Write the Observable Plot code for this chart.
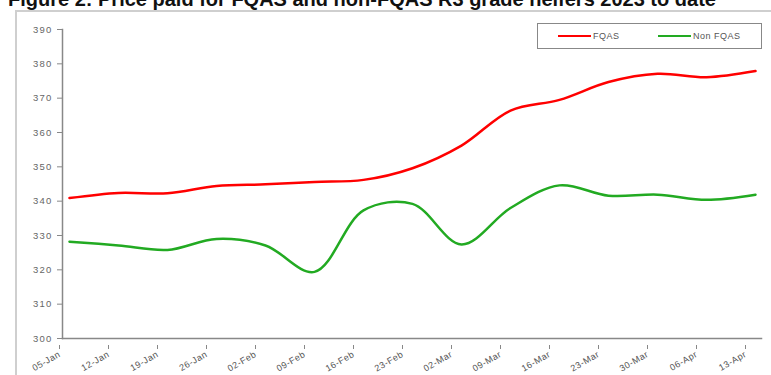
<!DOCTYPE html>
<html>
<head>
<meta charset="utf-8">
<script src="https://cdn.jsdelivr.net/npm/d3@7"></script>
<script src="https://cdn.jsdelivr.net/npm/@observablehq/plot@0.6"></script>
<style>
  html, body { margin: 0; padding: 0; background: #fff; overflow: hidden; }
  #wrap { position: relative; width: 771px; height: 375px; overflow: hidden; }
  #title { position: absolute; left: 8px; top: -11px; font: bold 20px "Liberation Sans", Arial, sans-serif; line-height: 20px; color: #111; white-space: nowrap; }
  #border { position: absolute; left: 15px; top: 10px; width: 800px; height: 400px; border: 2px solid #cfcfcf; box-sizing: border-box; }
  #chart { position: absolute; left: 0; top: 0; }
  #legend { position: absolute; left: 537px; top: 23px; width: 225px; height: 26px; border: 1px solid #888; box-sizing: border-box; background: #fff;
    font: 9px "Liberation Sans", Arial, sans-serif; color: #555; letter-spacing: 0.5px; }
  .item { position: absolute; top: 7px; display: flex; align-items: center; }
  .sw { display: inline-block; width: 33px; height: 2px; margin-right: 2px; }
  .yax text { letter-spacing: 1.2px; }
  .xax text { letter-spacing: 0.5px; }
</style>
</head>
<body>
<div id="wrap">
  <div id="border"></div>
  <div id="chart"></div>
  <div id="title">Figure 2: Price paid for FQAS and non-FQAS R3 grade heifers 2023 to date</div>
  <div id="legend">
    <div class="item" style="left:20px"><span class="sw" style="background:#ff0000"></span>FQAS</div>
    <div class="item" style="left:120px"><span class="sw" style="background:#22aa22"></span>Non FQAS</div>
  </div>
</div>
<script>
const dates = ["05-Jan","12-Jan","19-Jan","26-Jan","02-Feb","09-Feb","16-Feb","23-Feb","02-Mar","09-Mar","16-Mar","23-Mar","30-Mar","06-Apr","13-Apr"];
const fqas    = [340.9, 342.4, 342.3, 344.4, 344.9, 345.6, 346.2, 349.6, 356.2, 366.4, 369.5, 374.7, 377.1, 376.1, 377.9];
const nonFqas = [328.2, 327.1, 325.8, 329.0, 327.1, 319.4, 337.3, 339.2, 327.4, 338.0, 344.6, 341.6, 341.9, 340.4, 341.9];
const yTicks = [300, 310, 320, 330, 340, 350, 360, 370, 380, 390];

const rows = [];
dates.forEach((d, i) => {
  rows.push({date: d, value: fqas[i], series: "FQAS"});
  rows.push({date: d, value: nonFqas[i], series: "Non FQAS"});
});

const chart = Plot.plot({
  width: 771,
  height: 375,
  marginLeft: 62,
  marginRight: 10,
  marginTop: 29,
  marginBottom: 37,
  style: {fontFamily: "'Liberation Sans', Arial, sans-serif", fontSize: "9.5px", background: "transparent"},
  x: {type: "point", domain: dates, padding: 0, label: null},
  y: {domain: [300, 390], label: null},
  color: {domain: ["FQAS", "Non FQAS"], range: ["#ff0000", "#22aa22"]},
  marks: [
    Plot.frame({anchor: "left", stroke: "#888", strokeWidth: 1.5}),
    Plot.frame({anchor: "bottom", stroke: "#888", strokeWidth: 1.5}),
    Plot.axisY({ticks: yTicks, tickSize: 5, tickPadding: 5, stroke: "#888", fill: "#666", label: null, className: "yax"}),
    Plot.axisX({tickSize: 4, tickRotate: -30, tickPadding: 4, fontSize: 9, dx: -10, dy: 7, stroke: "#888", fill: "#555", label: null, className: "xax"}),
    Plot.line(rows, {x: "date", y: "value", stroke: "series", strokeWidth: 2.5, curve: "catmull-rom"})
  ]
});
document.getElementById("chart").appendChild(chart);
</script>
</body>
</html>
